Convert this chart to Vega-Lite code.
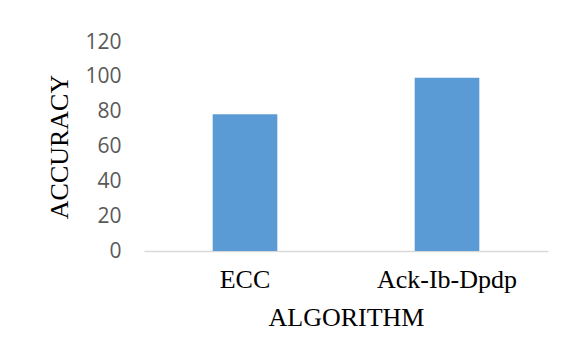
{
  "$schema": "https://vega.github.io/schema/vega-lite/v6.json",
  "width": 404,
  "height": 209,
  "autosize": "none",
  "padding": {"left": 144, "top": 42, "right": 26, "bottom": 111},
  "background": "white",
  "data": {"values": [
    {"algorithm": "ECC", "accuracy": 78.5},
    {"algorithm": "Ack-Ib-Dpdp", "accuracy": 99.5}
  ]},
  "mark": {"type": "bar", "color": "#5b9bd5"},
  "encoding": {
    "x": {
      "field": "algorithm", "type": "nominal", "sort": null,
      "scale": {"paddingInner": 0.68, "paddingOuter": 0.34},
      "axis": {
        "title": "ALGORITHM", "labelAngle": 0, "ticks": false,
        "domainColor": "#d9d9d9", "domainWidth": 1.5,
        "labelFont": "Liberation Serif", "labelFontSize": 26, "labelColor": "#000000",
        "labelPadding": 15,
        "titleFont": "Liberation Serif", "titleFontSize": 26, "titleFontWeight": "normal",
        "titleColor": "#000000", "titlePadding": 12
      }
    },
    "y": {
      "field": "accuracy", "type": "quantitative",
      "scale": {"domain": [0, 120], "nice": false},
      "axis": {
        "title": "ACCURACY", "values": [0, 20, 40, 60, 80, 100, 120],
        "grid": false, "domain": false, "ticks": false,
        "labelFont": "Open Sans", "labelFontSize": 21, "labelColor": "#595959",
        "labelPadding": 23,
        "titleFont": "Liberation Serif", "titleFontSize": 26, "titleFontWeight": "normal",
        "titleColor": "#000000", "titlePadding": 12
      }
    }
  },
  "config": {"view": {"stroke": null}}
}
